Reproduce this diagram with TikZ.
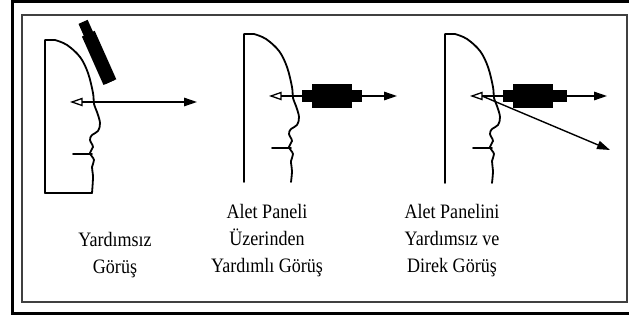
\documentclass[tikz,border=0pt]{standalone}
\usepackage{fontspec}
\setmainfont{Liberation Serif}
\newfontfamily\capfont[FakeStretch=0.88]{Liberation Serif}
\usetikzlibrary{arrows.meta}

\tikzset{
	face/.style={line width=1.8pt, line join=round, line cap=round},
	sight/.style={line width=1.4pt, -{Triangle[length=13pt, width=8.5pt]}},
	sleeve/.style={fill=black, inner sep=0pt, minimum height=12pt},
	body/.style={fill=black, inner sep=0pt, minimum height=24pt},
	caption/.style={align=center, font=\capfont\fontsize{20.5}{27}\selectfont},
	pics/head/.style={code={
		\draw[face] (0,#1) -- (0,-62) -- (10,-62)
			-- plot[smooth, tension=0.6] coordinates {(10,-62) (22,-57) (35,-45) (43,-29) (48,-9) (49,2) (52,10) (55,21) (53,29) (47,33) (45,38) (48,45) (45,51) (49,58) (47,65) (48,75) (47,#1)};
		\draw[face] (28,52) -- (47,52);
		\draw[line width=1.3pt] (27,0) -- (37,-3.5) -- (37,3.5) -- cycle;
		\coordinate (-eye)	at (37,0);
		\coordinate (-base)	at (0,#1);
		\coordinate (-neck)	at (47,#1);
	}}
}

\begin{document}
\begin{tikzpicture}[x=1pt, y=-1pt]
	\useasboundingbox (0,0) rectangle (629,320);
	\draw	[line width=3pt]				(12.5,1.5) rectangle (640,313.5);
	\draw	[line width=1.6pt, black!75]	(22,15) rectangle (627,302);

	% heads
	\pic	(f1)	at	(45,102)	{head=91};
	\pic	(f2)	at	(244,96)	{head=86};
	\pic	(f3)	at	(445,96)	{head=87};
	\draw	[face]	(f1-base) -- (f1-neck);

	% lines of sight
	\coordinate	(t1)	at	(197,102);
	\coordinate	(t2)	at	(397,96);
	\coordinate	(t3)	at	(607,96);
	\coordinate	(d3)	at	(610,150);
	\draw	[sight]	(f1-eye) -- (t1);
	\draw	[sight]	(f2-eye) -- (t2);
	\draw	[sight]	(f3-eye) -- (t3);
	\draw	[sight]	(f3-eye) -- (d3);

	% the instrument
	\node	[sleeve, rotate=-66, minimum width=66pt, minimum height=10pt]	(s1)	at	(96.5,52)	{};
	\node	[body, rotate=-66, minimum width=53pt, minimum height=14pt]		(b1)	at	(99.1,57.9)	{};
	\node	[sleeve, minimum width=60pt]	(s2)	at	(332,96)	{};
	\node	[body, minimum width=40pt]		(b2)	at	(332,96)	{};
	\node	[sleeve, minimum width=64pt]	(s3)	at	(535,96)	{};
	\node	[body, minimum width=40pt]		(b3)	at	(533,96)	{};

	% captions
	\node	[caption]	(c1)	at	(115,255)	{Yardımsız\\Görüş};
	\node	[caption]	(c2)	at	(267,241)	{Alet Paneli\\Üzerinden\\Yardımlı Görüş};
	\node	[caption]	(c3)	at	(452,241)	{Alet Panelini\\Yardımsız ve\\Direk Görüş};
\end{tikzpicture}
\end{document}
